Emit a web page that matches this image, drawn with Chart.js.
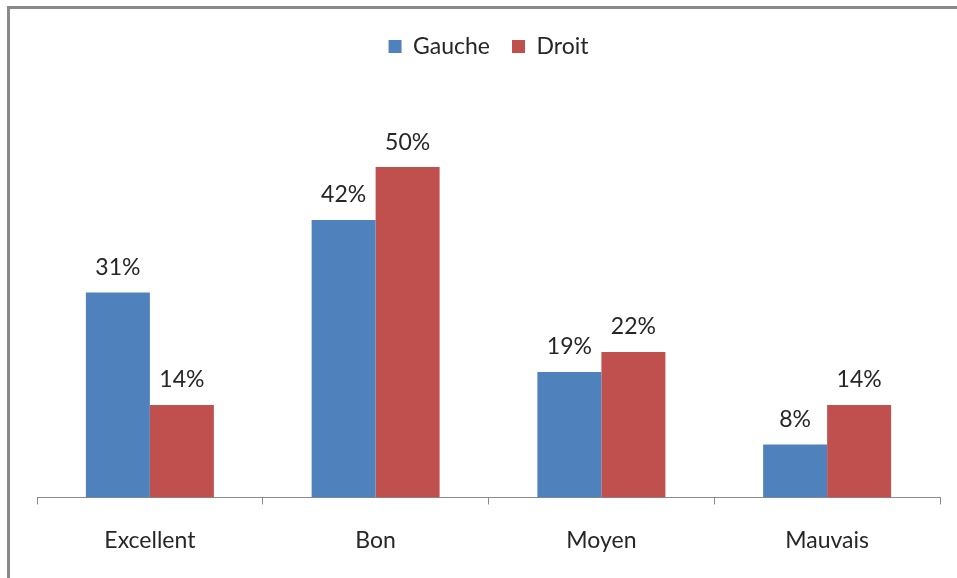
<!DOCTYPE html>
<html>
<head>
<meta charset="utf-8">
<script src="https://cdn.jsdelivr.net/npm/chart.js@4"></script>
<style>
    body { margin: 0; background: #fff; }
    #wrap { position: relative; width: 957px; height: 578px; }
    #frame {
        position: absolute; left: 7px; top: 6px; right: 0; bottom: 0;
        border-top: 3px solid #8a8a8a; border-left: 3px solid #8a8a8a;
        pointer-events: none;
    }
</style>
</head>
<body>
<div id="wrap">
    <canvas id="chart" width="957" height="578"></canvas>
    <div id="frame"></div>
</div>
<script>
// Chart data
const categories = ['Excellent', 'Bon', 'Moyen', 'Mauvais'];
const gaucheValues = [31, 42, 19, 8];
const droitValues = [14, 50, 22, 14];
const seriesNames = ['Gauche', 'Droit'];

const textColor = '#262626';
const fontFamily = 'Lato, "Open Sans", sans-serif';

// Draw the percentage above each bar
const valueLabels = {
    id: 'valueLabels',
    afterDatasetsDraw(chart) {
        const ctx = chart.ctx;
        ctx.save();
        ctx.font = '23px ' + fontFamily;
        ctx.fillStyle = textColor;
        ctx.textAlign = 'center';
        ctx.textBaseline = 'middle';
        chart.data.datasets.forEach((ds, i) => {
            chart.getDatasetMeta(i).data.forEach((bar, j) => {
                ctx.fillText(ds.data[j] + '%', bar.x, bar.y - 25);
            });
        });
        ctx.restore();
    }
};

new Chart(document.getElementById('chart'), {
    type: 'bar',
    data: {
        labels: categories,
        datasets: [
            { label: seriesNames[0], data: gaucheValues, backgroundColor: '#4F81BD' },
            { label: seriesNames[1], data: droitValues, backgroundColor: '#C0504D' }
        ]
    },
    options: {
        responsive: false,
        animation: false,
        layout: { padding: { left: 37, right: 17, top: 13, bottom: 2 } },
        datasets: {
            bar: { categoryPercentage: 0.567, barPercentage: 1 }
        },
        plugins: {
            legend: {
                position: 'top',
                labels: {
                    boxWidth: 13,
                    boxHeight: 13,
                    padding: 22,
                    color: textColor,
                    font: { size: 23, family: fontFamily }
                }
            },
            tooltip: { enabled: false }
        },
        scales: {
            x: {
                border: { display: true, color: '#8a8a8a', width: 1 },
                grid: {
                    offset: true,
                    drawOnChartArea: false,
                    drawTicks: true,
                    tickLength: 7,
                    color: '#8a8a8a'
                },
                ticks: {
                    color: textColor,
                    padding: 22,
                    font: { size: 23, family: fontFamily }
                }
            },
            y: {
                display: false,
                min: 0,
                max: 65
            }
        }
    },
    plugins: [valueLabels]
});
</script>
</body>
</html>
